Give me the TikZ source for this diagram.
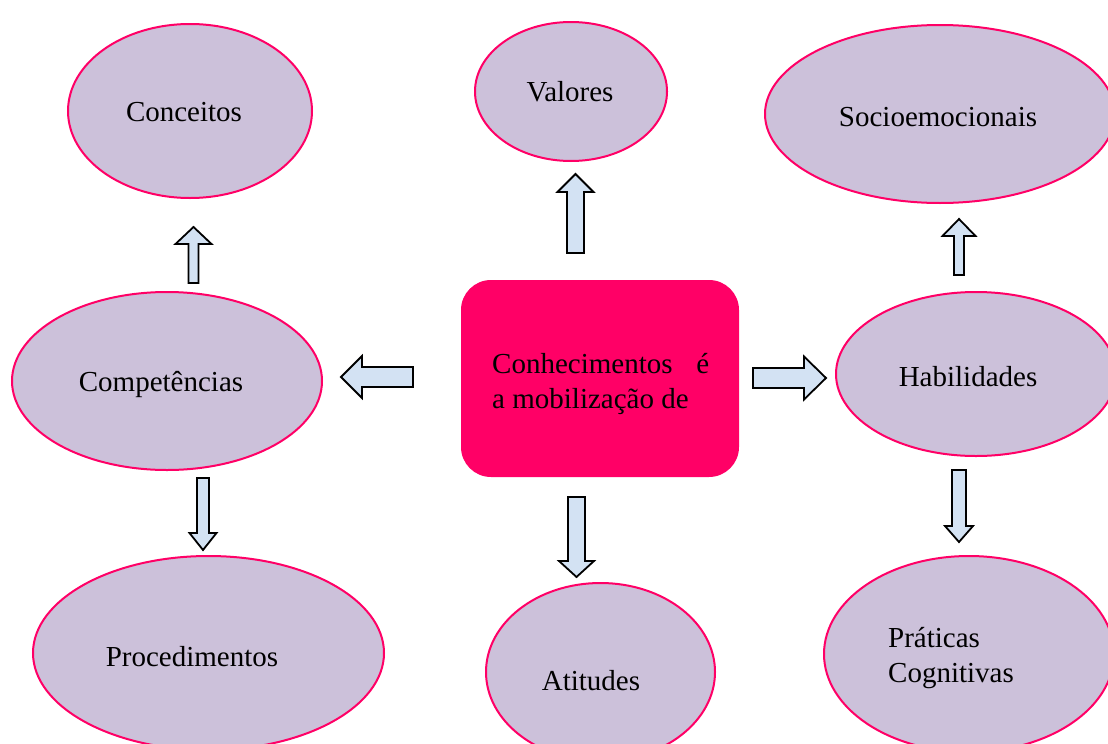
\documentclass[tikz,border=0pt]{standalone}
\usepackage{fontspec}
\setmainfont{Liberation Serif}
\usetikzlibrary{shapes.geometric}
\definecolor{lilac}{HTML}{CCC1DA}
\definecolor{magen}{HTML}{FF0066}
\definecolor{arrfill}{HTML}{D3E2F3}
\newcommand\blockarr[8]{% name, x, y, rot, len, shaft, headw, headlen
  \begin{scope}[shift={(#2,#3)},rotate=#4]
    \draw[barrow] (0,-#6/2) -- ({#5-#8},-#6/2) -- ({#5-#8},-#7/2) -- (#5,0)
      -- ({#5-#8},#7/2) -- ({#5-#8},#6/2) -- (0,#6/2) -- cycle;
    \coordinate (#1) at (#5,0);
  \end{scope}}
\begin{document}
\begin{tikzpicture}[x=1pt,y=-1pt,
  ell/.style={ellipse,draw=magen,fill=lilac,line width=2pt,inner sep=0pt},
  lbl/.style={inner sep=0pt,font=\fontsize{29}{35}\selectfont},
  barrow/.style={draw=black,fill=arrfill,line width=1.8pt,line join=miter},
  centerbox/.style={draw=none,fill=magen,rounded corners=30pt}]
\useasboundingbox (0,0) rectangle (1108,744);
\clip (0,0) rectangle (1108,744);
% ellipses
\node[ell,minimum width=244pt,minimum height=174pt] (conc) at (190,111) {};
\node[ell,minimum width=192pt,minimum height=139pt] (val) at (571,91.5) {};
\node[ell,minimum width=350pt,minimum height=178pt] (soc) at (940,114) {};
\node[ell,minimum width=310pt,minimum height=178pt] (comp) at (167,381) {};
\node[ell,minimum width=280pt,minimum height=164pt] (hab) at (976,374) {};
\node[ell,minimum width=351pt,minimum height=194pt] (proc) at (208.5,653) {};
\node[ell,minimum width=229pt,minimum height=178pt] (ati) at (600.5,672) {};
\node[ell,minimum width=290pt,minimum height=196pt] (prat) at (969,654) {};
% centre box
\path[centerbox] (461,280) rectangle (739,477);
\node[lbl,anchor=west] (cent) at (492,384) {\parbox{217pt}{Conhecimentos\hfill é\\a mobilização de}};
% labels
\node[lbl] (tconc) at (184,112) {Conceitos};
\node[lbl] (tval) at (570,92) {Valores};
\node[lbl] (tsoc) at (938,117) {Socioemocionais};
\node[lbl] (tcomp) at (161,384) {Competências};
\node[lbl] (thab) at (968,377) {Habilidades};
\node[lbl] (tproc) at (192,657) {Procedimentos};
\node[lbl] (tati) at (591,681) {Atitudes};
\node[lbl,anchor=west,align=left] (tprat) at (888,658) {Práticas\\Cognitivas};
% block arrows
\blockarr{a1}{193.5}{283}{90}{56}{10}{36}{17}
\blockarr{a2}{575.5}{253}{90}{79}{17}{36}{18}
\blockarr{a3}{959}{275}{90}{56}{10}{33}{17}
\blockarr{a4}{413}{377}{180}{72}{20}{42}{21}
\blockarr{a5}{753}{378}{0}{73}{20}{43}{22}
\blockarr{a6}{203}{478}{-90}{72}{12}{27}{17}
\blockarr{a7}{576.5}{497}{-90}{80}{17}{35}{16}
\blockarr{a8}{959}{470}{-90}{72}{14}{28}{16}
\end{tikzpicture}
\end{document}
